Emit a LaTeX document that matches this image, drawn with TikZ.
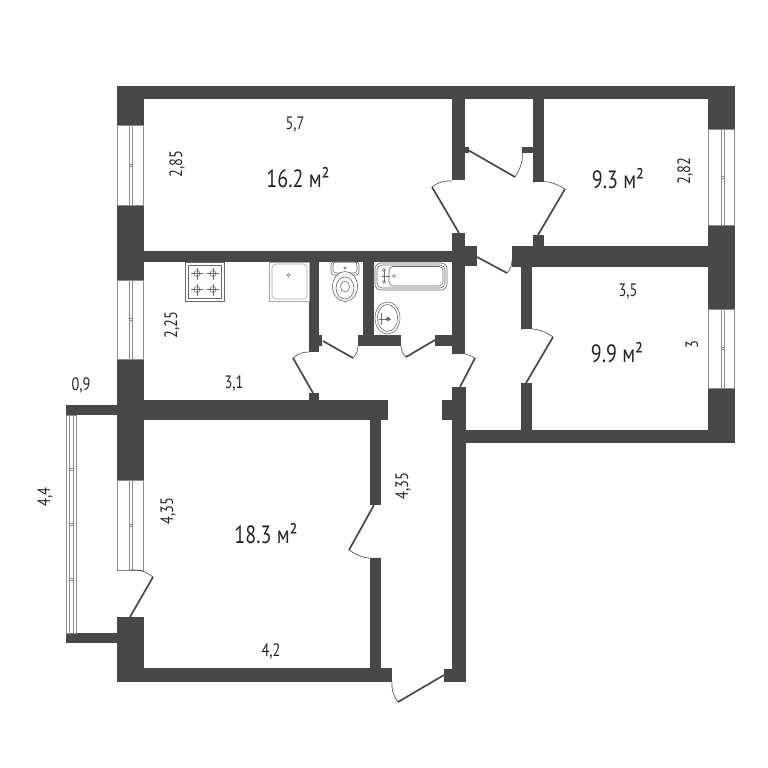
\documentclass[tikz,border=0pt]{standalone}
\usepackage{fontspec}
\setmainfont[FakeStretch=0.8]{PT Sans}
\definecolor{wallc}{HTML}{484848}
\definecolor{frame}{HTML}{8C8C8C}
\definecolor{fix}{HTML}{6A6A6A}
\tikzset{
  wall/.style={fill=wallc,draw=none},
  winbox/.style={fill=white,draw=frame,line width=0.6pt},
  mull/.style={draw=frame,line width=0.7pt,fill=white},
  leaf/.style={draw=wallc,line width=1.7pt},
  swing/.style={draw=wallc,line width=0.6pt},
  dim/.style={font=\fontsize{18}{20}\selectfont,text=black!85,inner sep=0pt},
  dimv/.style={dim,rotate=90},
  area/.style={font=\fontsize{25}{28}\selectfont,text=black!85,inner sep=0pt},
  fixt/.style={draw=fix,line width=0.6pt,fill=white},
  fixl/.style={draw=fix,line width=0.6pt},
}
\newcommand{\doorleaf}[4]{% hinge, end, jamb, bend
  \draw[leaf] (#1) -- (#2);
  \draw[swing] (#2) to[#4=20] (#3);
}
\newcommand{\burner}[1]{%
  \draw[fixl] (#1) circle (3);
  \draw[fixl] ($(#1)+(-6,0)$) -- ($(#1)+(6,0)$);
  \draw[fixl] ($(#1)+(0,-6)$) -- ($(#1)+(0,6)$);
}
\usetikzlibrary{calc}
\begin{document}
\begin{tikzpicture}[x=1pt,y=-1pt]
\useasboundingbox[fill=white] (0,0) rectangle (768,768);
% outer and partition walls
\fill[wall] (117,86) rectangle (735,99);
\fill[wall] (117,86) rectangle (144,480);
\fill[wall] (117,617) rectangle (144,682);
\fill[wall] (708,86) rectangle (735,443);
\fill[wall] (144,251) rectangle (465,262);
\fill[wall] (117,400) rectangle (388,420);
\fill[wall] (442,400) rectangle (452,420);
\fill[wall] (117,668) rectangle (392,682);
\fill[wall] (444,669) rectangle (452,682);
\fill[wall] (452,387) rectangle (466,682);
\fill[wall] (452,430) rectangle (735,443);
% balcony walls
\fill[wall] (66,405) rectangle (117,415);
\fill[wall] (66,633) rectangle (117,643);
% right of the big room
\fill[wall] (370,420) rectangle (381,505);
\fill[wall] (370,558) rectangle (381,668);
% centre block
\fill[wall] (452,99) rectangle (465,180);
\fill[wall] (465,147) rectangle (469,153);
\fill[wall] (533,99) rectangle (544,182);
\fill[wall] (522,147) rectangle (533,153);
\fill[wall] (533,235) rectangle (544,250);
\fill[wall] (452,233) rectangle (465,354);
\fill[wall] (465,246) rectangle (477,266);
\fill[wall] (512,246) rectangle (708,267);
\fill[wall] (521,260) rectangle (532,329);
\fill[wall] (521,383) rectangle (532,432);
% wet rooms
\fill[wall] (309,262) rectangle (319,352);
\fill[wall] (319,335) rectangle (322,346);
\fill[wall] (309,393) rectangle (319,400);
\fill[wall] (363,262) rectangle (374,335);
\fill[wall] (358,335) rectangle (401,346);
\fill[wall] (435,335) rectangle (452,346);
% windows
\foreach \yo/\yt in {125/205,280/359,480/570}{
  \draw[winbox] (117.5,\yo) rectangle (143.5,\yt);
  \draw[mull] (129,\yo) rectangle (132,\yt);
  \draw[mull] (129,{(\yo+\yt)/2-1}) rectangle (132,{(\yo+\yt)/2+1});
}
\foreach \yo/\yt in {129/225,309/388}{
  \draw[winbox] (708.5,\yo) rectangle (734.5,\yt);
  \draw[mull] (721,\yo) rectangle (724,\yt);
  \draw[mull] (721,{(\yo+\yt)/2-1}) rectangle (724,{(\yo+\yt)/2+1});
}
\draw[winbox] (66.5,415) rectangle (76,633);
\draw[mull] (69.5,415) rectangle (73,633);
\foreach \yy in {469,524,579}{\draw[mull] (69.5,\yy-1) rectangle (73,\yy+1);}
% doors
\doorleaf{459,233}{432,187}{452,181}{bend left}
\doorleaf{538,235}{565,189}{533,182}{bend right}
\doorleaf{468,150}{515,177}{522,147}{bend right}
\doorleaf{477,257}{507,273}{512,260}{bend right}
\doorleaf{526,383}{553,337}{521,329}{bend right}
\doorleaf{435,340}{406,357}{401,346}{bend left}
\doorleaf{323,341}{353,358}{358,346}{bend right}
\doorleaf{313,393}{293,358}{309,352}{bend left}
\doorleaf{460,387}{475,358}{453,354}{bend right}
\doorleaf{130,617}{153,577}{130,570}{bend right}
\doorleaf{374,505}{349,550}{380,558}{bend right}
\doorleaf{444,675}{398,702}{392,682}{bend left}
% stove
\draw[fixt,line width=1pt] (185.5,262.5) rectangle (224,301);
\draw[fixl] (188,265) rectangle (221.5,298.5);
\burner{197,273.5}
\burner{213,273.5}
\burner{197,289.5}
\burner{213,289.5}
% kitchen sink
\draw[fixt,draw=black!35] (269,262.5) rectangle (309,301);
\draw[fixt,draw=black!35,rounded corners=4pt] (272,264) rectangle (307,299);
\draw[fixl] (288.5,275) circle (1.5);
% toilet
\draw[fixt,rounded corners=3pt] (331,262) rectangle (359,275);
\draw[fixl,rounded corners=3pt] (333,262) rectangle (357,273);
\draw[fixl] (345,268) circle (1.3);
\draw[fixt] (345,286.5) ellipse (12.5 and 15);
\draw[fixl] (345,288) ellipse (9 and 11);
\draw[fixl] (345,286.5) ellipse (4.5 and 5.5);
% bath
\draw[fixt,rounded corners=6pt] (375,263) rectangle (447,290);
\draw[fixl,rounded corners=5pt] (377,265) rectangle (445,288);
\draw[fixl,rounded corners=4pt] (389,266.5) rectangle (443,286);
\draw[fixl] (394,276) circle (1.5);
\draw[fixl] (382,276) -- (390,276) (384,270) -- (384,282);
\draw[fixl] (384,270) circle (1.5) (384,282) circle (1.5);
% basin
\draw[fixt] (387.5,318) ellipse (12.5 and 16);
\draw[fixl] (387.5,318) ellipse (10 and 13.5);
\draw[fixl] (379,319) -- (391,319) (381,313) -- (381,325);
\fill[fix] (388,319) circle (2);
% labels
\node[dim] (l57) at (295,125) {5,7};
\node[area] (a1) at (298,178) {16.2 м²};
\node[dimv] (l285) at (177,164) {2,85};
\node[area] (a2) at (618,179) {9.3 м²};
\node[dimv] (l282) at (685,171) {2,82};
\node[dim] (l35) at (628,292) {3,5};
\node[area] (a3) at (617,353) {9.9 м²};
\node[dimv] (l3) at (692,345) {3};
\node[dimv] (l225) at (172,325) {2,25};
\node[dim] (l31) at (234,383) {3,1};
\node[dim] (l09) at (81,385) {0,9};
\node[dimv] (l44) at (45,497) {4,4};
\node[dimv] (l435a) at (168,511) {4,35};
\node[dimv] (l435b) at (403,486) {4,35};
\node[area] (a4) at (266,534) {18.3 м²};
\node[dim] (l42) at (271,651) {4,2};
\end{tikzpicture}
\end{document}
